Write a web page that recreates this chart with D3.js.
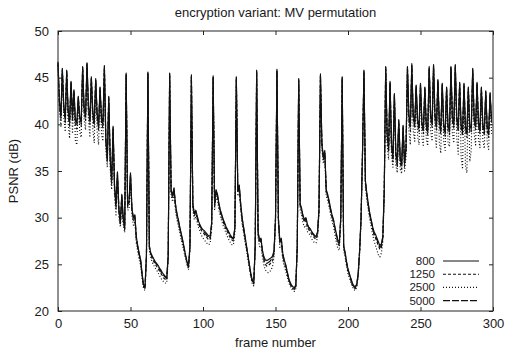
<!DOCTYPE html>
<html><head><meta charset="utf-8">
<script src="https://cdn.jsdelivr.net/npm/d3@7"></script>
<style>body{margin:0;background:#fff} text{font-family:"Liberation Sans",Arial,sans-serif;fill:#1a1a1a}</style>
</head><body><svg id="c" width="505" height="352"></svg>
<script>
const title = "encryption variant: MV permutation";
const xLabel = "frame number";
const yLabel = "PSNR (dB)";
const xTicks = [0,50,100,150,200,250,300];
const yTicks = [20,25,30,35,40,45,50];
const seriesNames = ["800","1250","2500","5000"];

const psnr800 = [
46.7,42.5,41.0,46.0,42.0,40.8,45.8,41.5,40.5,44.6,41.0,43.7,40.5,40.2,43.0,
40.8,40.4,46.2,41.8,41.0,46.6,42.0,40.6,45.1,41.5,40.3,44.9,41.2,40.0,44.0,
40.8,40.2,46.3,38.5,36.4,43.0,36.5,34.0,39.8,33.5,31.5,34.9,31.0,29.6,32.5,
30.0,29.0,45.5,31.5,31.8,34.8,31.0,30.0,30.3,28.0,27.0,26.2,25.5,24.0,22.8,
22.6,26.0,45.6,27.0,26.2,25.9,25.6,25.3,25.1,24.9,24.6,24.4,24.1,23.9,23.7,
23.6,26.0,45.5,33.0,32.4,33.2,31.5,30.5,29.8,29.0,28.3,27.6,26.8,26.0,25.3,
24.8,27.0,45.3,31.5,30.5,30.8,30.2,29.6,29.2,28.9,28.7,28.6,28.4,28.2,28.0,
28.1,29.5,45.2,31.5,33.0,32.5,31.5,30.8,30.3,29.8,29.4,29.0,28.7,28.4,28.1,
27.9,27.8,29.0,45.1,33.0,33.5,31.5,30.0,29.0,28.0,27.0,26.0,25.0,24.0,23.3,
23.1,27.0,45.8,28.5,27.6,27.8,26.5,25.8,25.5,25.4,25.5,25.6,25.7,25.9,26.5,
30.0,45.9,30.0,27.5,27.8,26.2,25.5,25.0,24.3,23.6,23.1,22.8,22.6,22.5,22.8,
27.0,44.9,31.5,31.0,30.2,29.8,30.0,29.3,29.0,28.8,28.5,28.3,28.1,28.0,28.5,
31.0,45.4,38.0,36.5,37.2,33.0,32.5,31.8,31.0,30.3,29.8,29.0,28.3,27.6,27.4,
30.0,45.1,27.0,26.3,25.3,24.5,24.0,23.5,23.0,22.7,22.6,22.9,24.0,26.5,30.0,
37.0,45.8,34.0,32.6,31.5,30.5,29.8,29.0,28.5,28.2,27.8,27.4,27.0,27.2,28.0,
33.0,46.2,39.0,37.5,44.6,38.0,36.5,43.3,37.0,36.0,40.5,36.5,35.8,39.9,36.0,
37.5,46.2,41.0,40.0,46.5,41.0,40.2,44.2,40.5,39.8,44.4,40.2,39.6,44.0,40.0,
39.5,46.2,41.0,40.3,46.4,41.0,40.0,44.8,40.4,39.6,44.4,40.0,39.3,44.0,39.8,
39.5,46.2,40.8,40.2,46.4,40.8,39.8,44.5,40.0,39.4,44.4,39.8,39.2,44.0,39.6,
39.8,46.0,40.8,40.0,44.5,40.2,39.6,44.0,40.0,39.4,43.6,39.8,39.2,43.4,40.5
];
const psnr1250 = [
46.5,42.0,40.5,45.8,41.5,40.2,45.6,41.0,39.8,44.4,40.3,43.5,39.8,39.5,42.8,
40.2,39.8,46.0,41.3,40.4,46.4,41.5,40.0,44.9,40.8,39.7,44.7,40.6,39.4,43.8,
40.2,39.6,46.1,38.0,36.0,42.7,36.0,33.6,39.5,33.0,31.0,34.6,30.6,29.2,32.2,
29.6,28.7,45.3,31.2,31.4,34.5,30.7,29.7,30.0,27.7,26.7,25.9,25.2,23.8,22.6,
22.4,25.8,45.4,26.8,26.0,25.6,25.3,25.0,24.8,24.5,24.3,24.0,23.8,23.5,23.4,
23.3,25.8,45.3,32.8,32.1,32.9,31.2,30.2,29.5,28.8,28.0,27.3,26.6,25.8,25.1,
24.6,26.8,45.1,31.2,30.2,30.5,29.9,29.3,28.9,28.6,28.4,28.2,28.0,27.8,27.6,
27.7,29.2,45.0,31.2,32.7,32.2,31.2,30.5,30.0,29.5,29.1,28.7,28.4,28.1,27.8,
27.6,27.5,28.8,44.9,32.7,33.2,31.2,29.7,28.7,27.7,26.8,25.8,24.8,23.8,23.1,
22.9,26.8,45.6,28.2,27.3,27.5,26.2,25.4,25.0,24.8,24.9,25.0,25.2,25.4,26.2,
29.7,45.7,29.7,27.2,27.5,25.9,25.2,24.7,24.0,23.4,22.9,22.6,22.4,22.3,22.6,
26.8,44.7,31.2,30.7,29.9,29.5,29.7,29.0,28.7,28.5,28.2,28.0,27.8,27.7,28.2,
30.7,45.2,37.7,36.2,36.9,32.7,32.2,31.5,30.7,30.0,29.5,28.7,28.0,27.2,27.0,
29.7,44.9,26.8,26.1,25.1,24.3,23.8,23.3,22.8,22.5,22.4,22.7,23.8,26.3,29.8,
36.8,45.6,33.7,32.3,31.2,30.2,29.5,28.7,28.1,27.8,27.4,27.0,26.6,26.8,27.7,
32.7,46.0,38.5,37.0,44.4,37.4,36.0,43.1,36.4,35.4,40.2,35.9,35.2,39.6,35.5,
37.1,46.0,40.5,39.3,46.3,40.5,39.6,44.0,40.0,39.2,44.2,39.7,39.0,43.8,39.5,
38.9,46.0,40.5,39.7,46.2,40.5,39.4,44.6,39.9,39.0,44.2,39.5,38.7,43.8,39.3,
38.9,46.0,40.3,39.6,46.2,40.3,39.2,44.3,39.5,38.8,44.2,39.3,38.6,43.8,39.1,
39.2,45.8,40.3,39.4,44.3,39.7,39.0,43.8,39.5,38.8,43.4,39.3,38.6,43.2,40.0
];
const psnr2500 = [
46.3,41.5,39.8,45.5,40.8,39.2,45.3,40.2,38.5,44.2,39.0,43.2,38.2,37.8,42.5,
39.2,38.6,45.8,40.5,39.4,46.2,40.5,38.6,44.6,39.5,38.0,44.4,39.2,37.8,43.5,
39.0,38.2,45.9,37.2,35.4,42.3,35.2,33.0,39.1,32.3,30.3,34.2,30.0,29.0,31.8,
29.3,28.4,45.2,30.8,30.9,34.0,30.3,29.2,29.5,27.3,26.3,25.5,24.9,23.5,22.4,
22.2,25.5,45.3,26.5,25.7,25.2,24.9,24.6,24.4,24.1,23.8,23.5,23.3,23.1,23.0,
23.0,25.6,45.2,32.4,31.7,32.5,30.8,29.8,29.1,28.4,27.6,27.0,26.3,25.6,24.9,
24.4,26.6,45.0,30.8,29.8,30.1,29.5,28.9,28.5,28.1,27.8,27.6,27.4,27.2,27.1,
27.3,28.9,44.9,30.8,32.3,31.8,30.8,30.1,29.6,29.1,28.7,28.3,27.9,27.6,27.3,
27.1,27.1,28.5,44.8,32.3,32.8,30.8,29.3,28.3,27.4,26.5,25.5,24.6,23.6,22.9,
22.7,26.5,45.5,27.8,26.9,27.0,25.7,24.9,24.4,24.2,24.1,24.2,24.4,24.8,25.8,
29.4,45.6,29.3,26.8,27.0,25.5,24.8,24.3,23.7,23.1,22.7,22.4,22.2,22.1,22.4,
26.5,44.6,30.8,30.3,29.4,29.0,29.2,28.5,28.3,28.1,27.7,27.5,27.3,27.3,27.9,
30.4,45.1,37.3,35.8,36.5,32.3,31.8,31.1,30.3,29.6,29.1,28.2,27.3,26.7,26.5,
29.3,44.8,26.5,25.8,24.8,24.0,23.5,23.0,22.6,22.3,22.2,22.5,23.6,26.0,29.5,
36.5,45.5,33.3,31.9,30.8,29.8,29.0,28.2,27.5,27.0,26.5,26.0,25.8,26.2,27.3,
32.3,45.9,37.8,36.2,44.2,36.6,35.4,42.9,35.6,34.8,40.0,35.2,34.7,39.3,35.0,
36.5,45.8,39.3,37.8,46.1,39.3,38.2,43.8,38.8,37.8,44.0,38.6,37.6,43.6,38.4,
37.7,45.8,39.2,38.2,46.0,38.9,37.4,44.4,38.0,36.9,44.0,38.2,37.2,43.6,38.0,
37.6,45.8,39.0,38.0,46.0,38.6,36.8,44.1,36.5,35.2,43.8,35.6,34.8,43.5,36.0,
37.2,45.6,39.0,37.8,44.1,38.4,37.5,43.6,38.3,37.4,43.2,38.0,37.3,43.0,39.0
];
const psnr5000 = [
46.6,42.3,40.8,45.9,41.8,40.6,45.7,41.3,40.2,44.5,40.7,43.6,40.2,40.0,42.9,
40.6,40.1,46.1,41.6,40.8,46.5,41.8,40.3,45.0,41.2,40.1,44.8,41.0,39.7,43.9,
40.5,40.0,46.2,38.3,36.2,42.9,36.3,33.8,39.7,33.3,31.3,34.8,30.8,29.4,32.4,
29.8,28.9,45.4,31.4,31.6,34.7,30.9,29.9,30.2,27.9,26.9,26.1,25.4,23.9,22.7,
22.5,25.9,45.5,26.9,26.1,25.8,25.5,25.2,25.0,24.8,24.5,24.2,24.0,23.8,23.6,
23.5,25.9,45.4,32.9,32.3,33.1,31.4,30.4,29.7,28.9,28.2,27.5,26.7,25.9,25.2,
24.7,26.9,45.2,31.4,30.4,30.7,30.1,29.5,29.1,28.8,28.6,28.4,28.2,28.0,27.8,
27.9,29.4,45.1,31.4,32.9,32.4,31.4,30.7,30.2,29.7,29.3,28.9,28.6,28.3,28.0,
27.8,27.7,28.9,45.0,32.9,33.4,31.4,29.9,28.9,27.9,26.9,25.9,24.9,23.9,23.2,
23.0,26.9,45.7,28.4,27.5,27.7,26.4,25.6,25.3,25.1,25.2,25.3,25.5,25.7,26.4,
29.9,45.8,29.9,27.4,27.7,26.1,25.4,24.9,24.2,23.5,23.0,22.7,22.5,22.4,22.7,
26.9,44.8,31.4,30.9,30.1,29.7,29.9,29.2,28.9,28.7,28.4,28.2,28.0,27.9,28.4,
30.9,45.3,37.9,36.4,37.1,32.9,32.4,31.7,30.9,30.2,29.7,28.9,28.2,27.4,27.2,
29.9,45.0,26.9,26.2,25.2,24.4,23.9,23.4,22.9,22.6,22.5,22.8,23.9,26.4,29.9,
36.9,45.7,33.9,32.5,31.4,30.4,29.7,28.9,28.3,28.0,27.6,27.2,26.8,27.0,27.9,
32.9,46.1,38.8,37.3,44.5,37.8,36.3,43.2,36.8,35.8,40.4,36.3,35.6,39.8,35.8,
37.3,46.1,40.8,39.7,46.4,40.8,39.9,44.1,40.3,39.5,44.3,40.0,39.3,43.9,39.8,
39.2,46.1,40.8,40.0,46.3,40.8,39.7,44.7,40.2,39.3,44.3,39.8,39.0,43.9,39.6,
39.2,46.1,40.6,39.9,46.3,40.6,39.5,44.4,39.8,39.1,44.3,39.6,38.9,43.9,39.4,
39.5,45.9,40.6,39.7,44.4,40.0,39.3,43.9,39.8,39.1,43.5,39.6,38.9,43.3,40.2
];

const series = [
  {name: seriesNames[0], values: psnr800, dash: null},
  {name: seriesNames[1], values: psnr1250, dash: "3,2"},
  {name: seriesNames[2], values: psnr2500, dash: "1,2"},
  {name: seriesNames[3], values: psnr5000, dash: "7,2"}
];

const W = 505, H = 352;
const m = {l: 58, r: 12, t: 31, b: 41};
const svg = d3.select("#c");
const x = d3.scaleLinear().domain([0, 300]).range([m.l, W - m.r]);
const y = d3.scaleLinear().domain([20, 50]).range([H - m.b, m.t]);

// axes
const gx = svg.append("g").attr("transform", `translate(0,${H - m.b})`)
  .call(d3.axisBottom(x).tickValues(xTicks).tickFormat(d3.format("d")).tickSize(-4).tickPadding(8));
const gy = svg.append("g").attr("transform", `translate(${m.l},0)`)
  .call(d3.axisLeft(y).tickValues(yTicks).tickFormat(d3.format("d")).tickSize(-4).tickPadding(9));
const gxt = svg.append("g").attr("transform", `translate(0,${m.t})`)
  .call(d3.axisTop(x).tickValues(xTicks).tickFormat("").tickSize(-4));
const gyr = svg.append("g").attr("transform", `translate(${W - m.r},0)`)
  .call(d3.axisRight(y).tickValues(yTicks).tickFormat("").tickSize(-4));
[gx, gy, gxt, gyr].forEach(g => {
  g.select(".domain").remove();
  g.selectAll("line").attr("stroke", "#222");
  g.selectAll("text").attr("font-size", 13).attr("fill", "#1a1a1a")
    .attr("font-family", '"Liberation Sans", Arial, sans-serif');
});

// lines
const line = d3.line().x((d, i) => x(i)).y(d => y(d));
const gl = svg.append("g");
series.slice().reverse().forEach(s => {
  gl.append("path").datum(s.values)
    .attr("d", line)
    .attr("fill", "none")
    .attr("stroke", "#111")
    .attr("stroke-width", 1.15)
    .attr("stroke-linejoin", "round")
    .attr("stroke-dasharray", s.dash);
});

// border
svg.append("rect").attr("x", m.l).attr("y", m.t)
  .attr("width", W - m.l - m.r).attr("height", H - m.t - m.b)
  .attr("fill", "none").attr("stroke", "#222").attr("stroke-width", 1);

// titles
svg.append("text").attr("x", (m.l + W - m.r) / 2).attr("y", 17)
  .attr("text-anchor", "middle").attr("font-size", 13).text(title);
svg.append("text").attr("x", (m.l + W - m.r) / 2).attr("y", 346.5)
  .attr("text-anchor", "middle").attr("font-size", 13).text(xLabel);
svg.append("text").attr("transform", `translate(18,${(m.t + H - m.b) / 2}) rotate(-90)`)
  .attr("text-anchor", "middle").attr("font-size", 13).text(yLabel);

// legend
const legY0 = 261, legDy = 13.2;
series.forEach((s, i) => {
  const yy = legY0 + i * legDy;
  svg.append("text").attr("x", 435).attr("y", yy).attr("dy", "0.35em")
    .attr("text-anchor", "end").attr("font-size", 11.5).text(s.name);
  svg.append("line").attr("x1", 443).attr("x2", 479).attr("y1", yy).attr("y2", yy)
    .attr("stroke", "#111").attr("stroke-width", 1.1).attr("stroke-dasharray", s.dash);
});
</script></body></html>
